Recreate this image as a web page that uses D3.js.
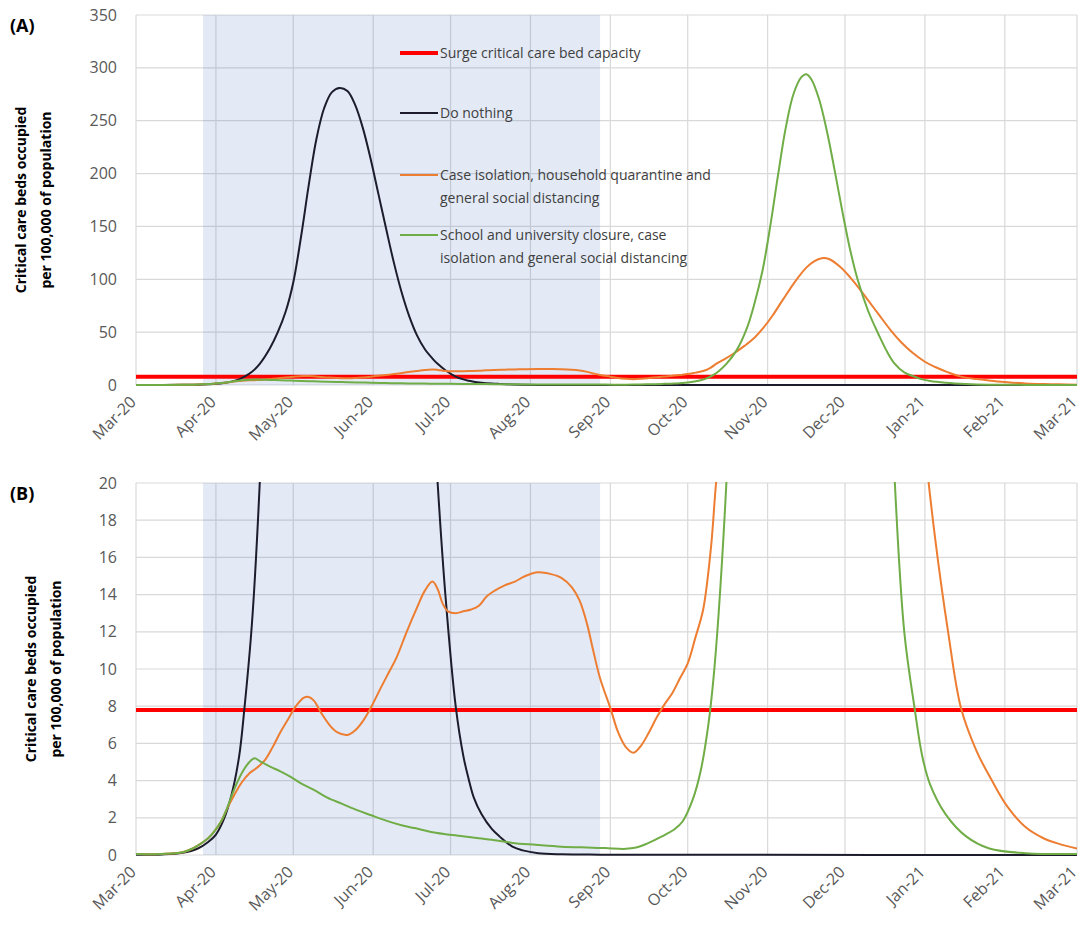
<!DOCTYPE html>
<html>
<head>
<meta charset="utf-8">
<script src="https://cdn.jsdelivr.net/npm/d3@7"></script>
<style>
body { margin: 0; background: #fff; }
svg text { font-family: "Open Sans", sans-serif; }
</style>
</head>
<body>
<div id="chart"></div>
<script>
// [days after 1 Mar 2020, critical care beds occupied per 100,000]
const doNothing = [[0,0.01],[10,0.03],[18,0.12],[24,0.35],[28,0.7],[31,1.1],[34,1.9],[37,3.2],[40,5.3],[42,7.8],[45,12.5],[48,20],[52,35],[55,50],[58,69],[61,97],[64,140],[67,189],[70,233],[73,262],[76,277],[79,281],[82,278],[85,265],[88,243],[91,214],[94,181],[97,148],[100,116],[103,88],[106,65],[109,47],[112,34],[115,25],[117,20],[120,14],[124,8],[127,5.3],[129,4.1],[131,3.1],[134,2.2],[138,1.4],[141,1.0],[146,0.45],[150,0.25],[156,0.1],[165,0.04],[180,0.02],[220,0.01],[365,0]];
const caseIsolation = [[0,0.05],[10,0.06],[18,0.15],[22,0.35],[25,0.6],[28,0.9],[30,1.2],[33,1.8],[35,2.4],[38,3.2],[41,3.9],[44,4.4],[47,4.7],[50,5.1],[53,5.8],[56,6.6],[59,7.3],[62,8.0],[65,8.45],[67,8.5],[69,8.3],[72,7.6],[75,7.0],[78,6.6],[82,6.45],[85,6.7],[88,7.2],[91,7.9],[95,9.0],[98,9.8],[101,10.6],[105,12.0],[109,13.3],[112,14.2],[115,14.7],[117,14.3],[119,13.5],[121,13.1],[124,13.0],[127,13.1],[130,13.2],[133,13.4],[136,13.9],[139,14.2],[143,14.5],[147,14.7],[151,15.0],[156,15.2],[161,15.1],[165,14.9],[169,14.4],[172,13.7],[175,12.4],[177,11.2],[180,9.5],[184,7.9],[187,6.6],[190,5.8],[193,5.5],[196,5.9],[199,6.6],[202,7.4],[205,8.1],[208,8.7],[211,9.5],[214,10.3],[217,11.7],[220,13.2],[223,16.5],[225,20],[228,24],[232,30],[236,37],[240,45],[243,53],[247,66],[251,81],[256,99],[260,111],[263,117],[266,120],[269,119],[273,112],[278,99],[284,80],[288,67],[293,51],[297,40],[301,31],[306,22],[310,17],[315,12],[320,7.9],[326,5.6],[332,4.0],[338,2.6],[345,1.5],[352,0.9],[358,0.6],[365,0.35]];
const schoolClosure = [[0,0.05],[10,0.06],[18,0.15],[22,0.35],[25,0.6],[28,0.9],[30,1.2],[33,1.8],[35,2.4],[38,3.5],[41,4.4],[44,5.0],[46,5.2],[48,5.05],[52,4.75],[56,4.5],[60,4.2],[64,3.85],[69,3.5],[74,3.1],[80,2.75],[86,2.4],[91,2.15],[97,1.85],[103,1.6],[108,1.45],[114,1.25],[120,1.12],[126,1.02],[133,0.9],[140,0.78],[146,0.65],[155,0.55],[165,0.45],[175,0.4],[182,0.37],[190,0.33],[194,0.4],[198,0.6],[204,1.0],[209,1.4],[212,1.8],[216,3.0],[219,4.5],[222,7],[224,9.5],[226,13],[229,20],[233,33],[237,54],[240,78],[243,108],[246,150],[249,198],[252,243],[255,275],[258,291],[260,294],[262,289],[265,270],[268,240],[271,203],[274,164],[277,128],[280,99],[284,70],[288,48],[291,33],[294,21],[298,12],[302,7.9],[305,5.3],[308,3.8],[314,2.2],[322,1.0],[331,0.35],[345,0.1],[365,0.05]];
const surgeCapacity = 7.8;
const triggerPeriod = [26.5, 180];
const topTicks = [0, 50, 100, 150, 200, 250, 300, 350];
const bottomTicks = [0, 2, 4, 6, 8, 10, 12, 14, 16, 18, 20];
const legendLabels = [
  ["Surge critical care bed capacity"],
  ["Do nothing"],
  ["Case isolation, household quarantine and", "general social distancing"],
  ["School and university closure, case", "isolation and general social distancing"]
];

const W = 1085, H = 929;
const start = new Date(2020, 2, 1);
const toDate = d => d3.timeDay.offset(start, d);

const svg = d3.select("#chart").append("svg")
    .attr("width", W)
    .attr("height", H);

const x = d3.scaleTime()
    .domain([start, new Date(2021, 2, 1)])
    .range([136, 1077]);

const months = d3.timeMonth.range(start, new Date(2021, 2, 2));
const fmt = d3.timeFormat("%b-%y");

const series = [
  {data: doNothing, color: "#1c1c2c"},
  {data: caseIsolation, color: "#ed7d31"},
  {data: schoolClosure, color: "#70ad47"}
];

function drawPanel(opt) {
  const y = d3.scaleLinear().domain([0, opt.max]).range([opt.bottom, opt.top]);
  const g = svg.append("g");

  // grid
  g.selectAll(".hg").data(opt.ticks).enter().append("line")
      .attr("x1", x.range()[0]).attr("x2", x.range()[1])
      .attr("y1", d => y(d)).attr("y2", d => y(d))
      .attr("stroke", "#d9d9d9").attr("stroke-width", 1.2);
  g.selectAll(".vg").data(months).enter().append("line")
      .attr("x1", d => x(d)).attr("x2", d => x(d))
      .attr("y1", opt.top).attr("y2", opt.bottom)
      .attr("stroke", "#d9d9d9").attr("stroke-width", 1.2);

  // shaded trigger period
  g.append("rect")
      .attr("x", x(toDate(triggerPeriod[0])))
      .attr("width", x(toDate(triggerPeriod[1])) - x(toDate(triggerPeriod[0])))
      .attr("y", opt.top)
      .attr("height", opt.bottom - opt.top)
      .attr("fill", "#4472c4")
      .attr("opacity", 0.15);

  // y axis
  const ya = g.append("g")
      .attr("transform", "translate(" + x.range()[0] + ",0)")
      .call(d3.axisLeft(y).tickValues(opt.ticks).tickSize(0).tickPadding(19));
  ya.select(".domain").remove();
  ya.selectAll("text").attr("font-size", 16).attr("fill", "#595959")
      .style("font-family", "'Open Sans', sans-serif");

  // x labels
  g.selectAll(".xl").data(months).enter().append("text")
      .attr("transform", d => "translate(" + (x(d) + 1) + "," + (opt.bottom + 18) + ") rotate(-45)")
      .attr("text-anchor", "end")
      .attr("font-size", 16)
      .attr("fill", "#595959")
      .text(d => fmt(d));

  // clip
  svg.append("clipPath").attr("id", opt.id)
    .append("rect")
      .attr("x", x.range()[0]).attr("y", opt.top - 1)
      .attr("width", x.range()[1] - x.range()[0])
      .attr("height", opt.bottom - opt.top + 2);

  const plot = g.append("g").attr("clip-path", "url(#" + opt.id + ")");

  plot.append("line")
      .attr("x1", x.range()[0]).attr("x2", x.range()[1])
      .attr("y1", y(surgeCapacity)).attr("y2", y(surgeCapacity))
      .attr("stroke", "#ff0000").attr("stroke-width", 4);

  const line = d3.line()
      .x(d => x(toDate(d[0])))
      .y(d => y(d[1]))
      .curve(d3.curveCatmullRom.alpha(0.5));

  plot.selectAll(".series").data(series).enter().append("path")
      .attr("d", d => line(d.data))
      .attr("fill", "none")
      .attr("stroke", d => d.color)
      .attr("stroke-width", 2);

  // panel label
  g.append("text")
      .attr("x", 10).attr("y", opt.top + 17)
      .attr("font-size", 18).attr("font-weight", "bold")
      .attr("fill", "#000")
      .text(opt.label);

  const cy = (opt.top + opt.bottom) / 2;
  const title = g.append("text")
      .attr("transform", "translate(" + opt.titleX + "," + cy + ") rotate(-90)")
      .attr("text-anchor", "middle")
      .attr("font-size", 14).attr("font-weight", "bold")
      .attr("fill", "#000");
  title.append("tspan").attr("x", 0).attr("dy", "0.35em").text("Critical care beds occupied");
  title.append("tspan").attr("x", 0).attr("dy", "1.8em").text("per 100,000 of population");

  return y;
}

drawPanel({top: 15, bottom: 385, max: 350, ticks: topTicks, id: "clipA", label: "(A)", titleX: 21});
drawPanel({top: 483, bottom: 855, max: 20, ticks: bottomTicks, id: "clipB", label: "(B)", titleX: 31});

// legend (panel A)
const legendColors = ["#ff0000", "#1c1c2c", "#ed7d31", "#70ad47"];
const legendY = [53, 113, 175, 235];
const lg = svg.append("g");
legendLabels.forEach((lines, i) => {
  lg.append("line")
      .attr("x1", 400).attr("x2", 438)
      .attr("y1", legendY[i]).attr("y2", legendY[i])
      .attr("stroke", legendColors[i])
      .attr("stroke-width", i === 0 ? 4 : 2);
  const t = lg.append("text")
      .attr("x", 440).attr("y", legendY[i])
      .attr("font-size", 14).attr("fill", "#404040");
  lines.forEach((s, j) => {
    t.append("tspan").attr("x", 440).attr("dy", j === 0 ? "0.35em" : "23px").text(s);
  });
});
</script>
</body>
</html>
